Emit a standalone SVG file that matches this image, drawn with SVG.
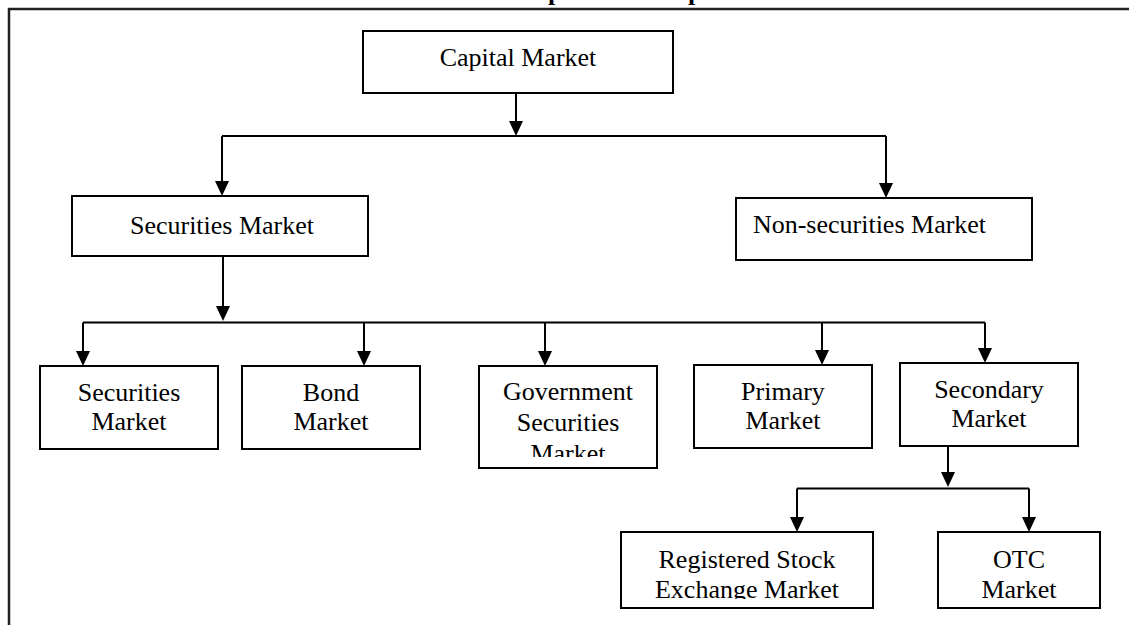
<svg xmlns="http://www.w3.org/2000/svg" width="1129" height="625" viewBox="0 0 1129 625">
<style>
.box{fill:#fff;stroke:#000;stroke-width:2}
.t{font-family:"Liberation Serif","Times New Roman",serif;font-size:26px;fill:#000;text-anchor:middle}
.ttl{font-family:"Liberation Serif","Times New Roman",serif;font-size:26px;font-weight:bold;fill:#000}
.c{stroke:#000;stroke-width:2;fill:none}
.a{stroke:#000;stroke-width:2;fill:none;marker-end:url(#ah)}
</style>
<defs>
<marker id="ah" markerUnits="userSpaceOnUse" markerWidth="16" markerHeight="14" refX="12" refY="7" orient="auto">
<path d="M0,0 L15,7 L0,14 z" fill="#000"/>
</marker>
<clipPath id="cg"><rect x="479" y="366" width="179" height="91"/></clipPath>
<clipPath id="cr"><rect x="621" y="532" width="253" height="67"/></clipPath>
</defs>
<rect width="1129" height="625" fill="#fff"/>
<g id="title">
<text class="ttl" x="548" y="-0.5">p</text>
<text class="ttl" x="688" y="-0.5">p</text>
</g>
<rect id="frame" x="9" y="9" width="1140" height="640" fill="none" stroke="#222" stroke-width="2.5"/>
<g id="connectors">
<path class="a" d="M516,93 V133"/>
<path class="c" d="M222,136 H886"/>
<path class="a" d="M222,136 V193"/>
<path class="a" d="M886,136 V195"/>
<path class="a" d="M223,256 V318"/>
<path class="c" d="M83,322.5 H985"/>
<path class="a" d="M83,322.5 V363"/>
<path class="a" d="M364,322.5 V363"/>
<path class="a" d="M545,322.5 V363"/>
<path class="a" d="M822,322.5 V362"/>
<path class="a" d="M985,322.5 V360"/>
<path class="a" d="M948,446 V484"/>
<path class="c" d="M797,488.5 H1029"/>
<path class="a" d="M797,488.5 V529"/>
<path class="a" d="M1029,488.5 V529"/>
</g>
<g id="capital"><rect class="box" x="363" y="31" width="310" height="62"/><text class="t" x="518" y="66">Capital Market</text></g>
<g id="securities"><rect class="box" x="72" y="196" width="296" height="60"/><text class="t" x="222" y="234">Securities Market</text></g>
<g id="nonsecurities"><rect class="box" x="736" y="198" width="296" height="62"/><text class="t" x="869.5" y="233">Non-securities Market</text></g>
<g id="securities2"><rect class="box" x="40" y="366" width="178" height="83"/><text class="t" x="129" y="400.5">Securities</text><text class="t" x="129" y="430">Market</text></g>
<g id="bond"><rect class="box" x="242" y="366" width="178" height="83"/><text class="t" x="331" y="400.5">Bond</text><text class="t" x="331" y="430">Market</text></g>
<g id="government"><rect class="box" x="479" y="366" width="178" height="102"/><g clip-path="url(#cg)"><text class="t" x="568" y="400">Government</text><text class="t" x="568" y="430.5">Securities</text><text class="t" x="568" y="462">Market</text></g></g>
<g id="primary"><rect class="box" x="694" y="365" width="178" height="83"/><text class="t" x="783" y="400">Primary</text><text class="t" x="783" y="429">Market</text></g>
<g id="secondary"><rect class="box" x="900" y="363" width="178" height="83"/><text class="t" x="989" y="397.5">Secondary</text><text class="t" x="989" y="426.5">Market</text></g>
<g id="registered"><rect class="box" x="621" y="532" width="252" height="76"/><g clip-path="url(#cr)"><text class="t" x="747" y="567.5">Registered Stock</text><text class="t" x="747" y="597.5">Exchange Market</text></g></g>
<g id="otc"><rect class="box" x="938" y="532" width="162" height="76"/><text class="t" x="1019" y="567.5">OTC</text><text class="t" x="1019" y="597.5">Market</text></g>
</svg>
